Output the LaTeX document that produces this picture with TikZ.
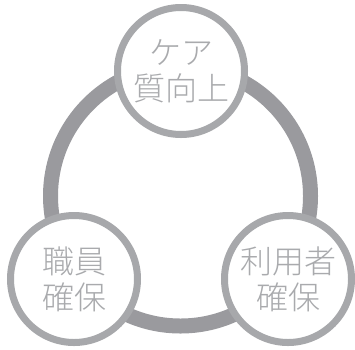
\documentclass[tikz,border=0pt]{standalone}
\usepackage{fontspec}
\newfontfamily\jp{Noto Sans CJK JP Light}
\definecolor{ringgray}{HTML}{9A9A9E}
\definecolor{bordergray}{HTML}{A7A8AB}
\definecolor{textgray}{HTML}{A9AAAD}
\begin{document}
\begin{tikzpicture}[x=1pt,y=-1pt,
  ringstyle/.style={circle, draw=ringgray, line width=15pt, minimum size=260pt, inner sep=0pt},
  topic/.style={circle, draw=bordergray, fill=white, line width=7pt, minimum size=127pt, inner sep=0pt,
    align=center, text=textgray, font=\jp\fontsize{32}{36}\selectfont}]
\useasboundingbox (0,0) rectangle (355,349);
\node[ringstyle] (ring) at (180.5,196) {};
\node[topic] (care) at (181,71) {ケア\\質向上};
\node[topic] (staff) at (74,279) {職員\\確保};
\node[topic] (user) at (288,279) {利用者\\確保};
\end{tikzpicture}
\end{document}
